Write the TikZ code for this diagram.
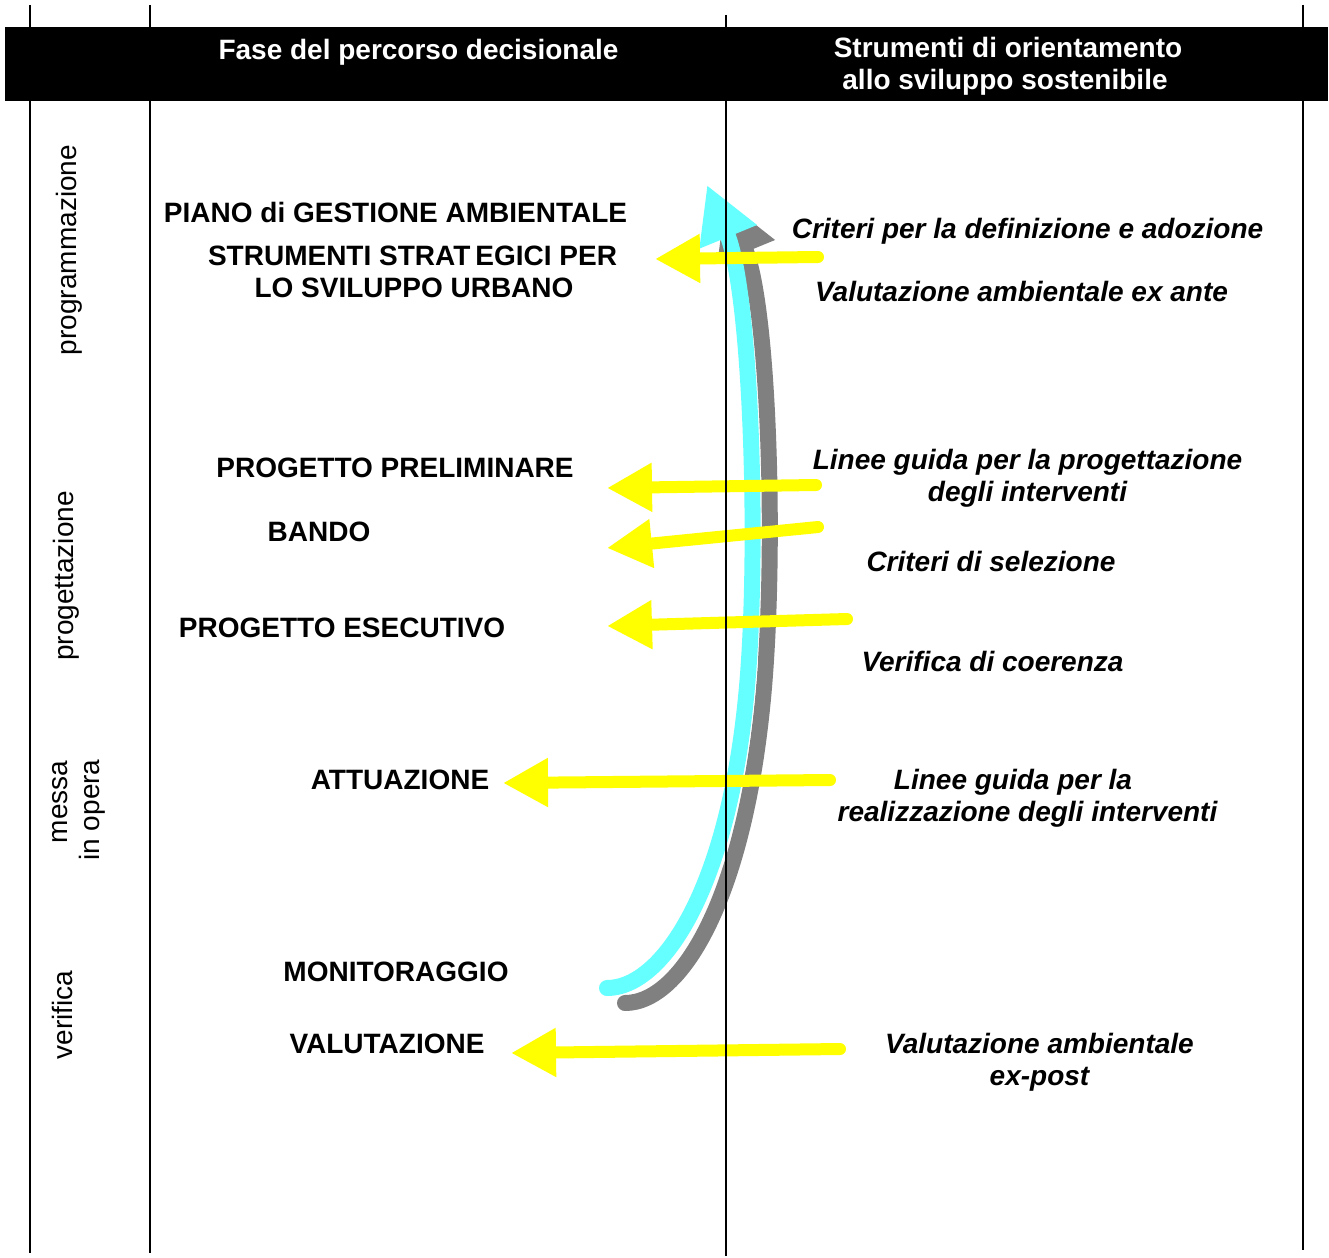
\documentclass[tikz,border=0pt]{standalone}
\usepackage{fontspec}
\setmainfont{Liberation Sans}
\usetikzlibrary{arrows.meta}
\definecolor{cyanA}{HTML}{66FFFF}
\definecolor{grayA}{HTML}{808080}
\definecolor{yel}{HTML}{FFFF00}
\begin{document}
\begin{tikzpicture}[x=1pt,y=-1pt,
 bt/.style={font=\fontsize{28}{32}\selectfont\bfseries, inner sep=0pt, anchor=base},
 it/.style={font=\fontsize{28}{32}\selectfont\bfseries\itshape, inner sep=0pt, anchor=base},
 hd/.style={font=\fontsize{28}{32}\selectfont\bfseries, text=white, inner sep=0pt, anchor=base},
 rt/.style={font=\fontsize{28}{32}\selectfont, rotate=90, inner sep=0pt, anchor=center},
 vline/.style={line width=2pt, draw=black},
 yarrow/.style={draw=yel, line width=12pt, line cap=round, -{Triangle[length=45pt,width=46pt]}},
 bigarrow/.style={line width=16pt, line cap=round, -{Triangle[length=56pt,width=58pt]}}]
\useasboundingbox (0,0) rectangle (1329,1257);
\fill[white] (0,0) rectangle (1329,1257);

% header
\fill[black] (5,27) rectangle (1328,101);
\node[hd] (h1) at (418.5,60) {Fase del percorso decisionale};
\node[hd] (h2a) at (1008,58) {Strumenti di orientamento};
\node[hd] (h2b) at (1005,90) {allo sviluppo sostenibile};

% phase labels
\node[rt] (p1) at (69,250) {programmazione};
\node[rt] (p2) at (66,576) {progettazione};
\node[rt] (p3a) at (60,802) {messa};
\node[rt] (p3b) at (92,810) {in opera};
\node[rt] (p4) at (62,1015) {verifica};

% big curved arrows
\coordinate (gs) at (625,1003); \coordinate (gm) at (766,660); \coordinate (ge) at (725,200);
\coordinate (cs) at (607,988); \coordinate (cm) at (749,660); \coordinate (ce) at (707,185);
\draw[bigarrow, draw=grayA] (gs) .. controls (685,1003) and (752,885) .. (gm)
  .. controls (775,520) and (768,305) .. (ge);
\draw[line width=18pt, white, line cap=round] (cs) .. controls (665,988) and (735,880) .. (cm);
\draw[bigarrow, draw=cyanA] (cs) .. controls (665,988) and (735,880) .. (cm)
  .. controls (758,520) and (750,290) .. (ce);

% left texts
\node[bt] (l1) at (395.5,223) {PIANO di GESTIONE AMBIENTALE};
\node[bt] (l2) at (412.5,265) {STRUMENTI STRAT\kern5pt EGICI PER};
\node[bt] (l3) at (414,297) {LO SVILUPPO URBANO};
\node[bt] (l4) at (395,477) {PROGETTO PRELIMINARE};
\node[bt] (l5) at (319,541) {BANDO};
\node[bt] (l6) at (342,637) {PROGETTO ESECUTIVO};
\node[bt] (l7) at (400,789) {ATTUAZIONE};
\node[bt] (l8) at (396,981) {MONITORAGGIO};
\node[bt] (l9) at (387,1053) {VALUTAZIONE};

% right texts
\node[it] (r1) at (1027.5,239) {Criteri per la definizione e adozione};
\node[it] (r2) at (1021.5,301) {Valutazione ambientale ex ante};
\node[it] (r3a) at (1027.5,469) {Linee guida per la progettazione};
\node[it] (r3b) at (1027.5,501) {degli interventi};
\node[it] (r4) at (991,571) {Criteri di selezione};
\node[it] (r5) at (992.5,671) {Verifica di coerenza};
\node[it] (r6a) at (1013,789) {Linee guida per la};
\node[it] (r6b) at (1027.5,821) {realizzazione degli interventi};
\node[it] (r7a) at (1039.5,1053) {Valutazione ambientale};
\node[it] (r7b) at (1039.5,1085) {ex-post};

% yellow arrows
\coordinate (a1s) at (818,257); \coordinate (a1e) at (655,259);
\coordinate (a2s) at (816,485); \coordinate (a2e) at (607,488);
\coordinate (a3s) at (818,527); \coordinate (a3e) at (607,548);
\coordinate (a4s) at (847,619); \coordinate (a4e) at (607,626);
\coordinate (a5s) at (830,780); \coordinate (a5e) at (503,783);
\coordinate (a6s) at (840,1049); \coordinate (a6e) at (511,1053);
\draw[yarrow] (a1s) -- (a1e);
\draw[yarrow] (a2s) -- (a2e);
\draw[yarrow] (a3s) -- (a3e);
\draw[yarrow] (a4s) -- (a4e);
\draw[yarrow] (a5s) -- (a5e);
\draw[yarrow] (a6s) -- (a6e);

% vertical lines
\draw[vline] (30,5) -- (30,1253);
\draw[vline] (150,5) -- (150,1253);
\draw[vline] (726,15) -- (726,1256);
\draw[vline] (1303,5) -- (1303,1250);
\end{tikzpicture}
\end{document}
